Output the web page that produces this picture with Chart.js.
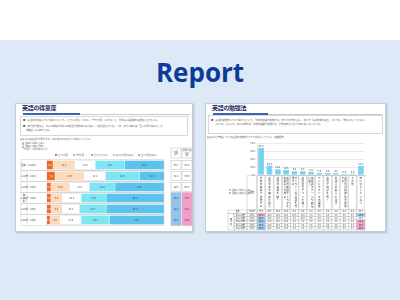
<!DOCTYPE html>
<html lang="ja">
<head>
<meta charset="utf-8">
<title>Report</title>
<script src="https://cdn.jsdelivr.net/npm/chart.js@4.4.1/dist/chart.umd.min.js"></script>
<style>
  html, body { margin: 0; padding: 0; }
  body { position: relative; width: 400px; height: 300px; overflow: hidden; background: #fff;
         font-family: "Noto Sans CJK JP", "Noto Sans", sans-serif; }
  .band { position: absolute; left: 0; top: 40px; width: 400px; height: 260px; background: #dde9f6; }
  .report { position: absolute; left: 0; top: 55px; width: 400px; text-align: center;
            font-family: "Open Sans", sans-serif; font-weight: 700; font-size: 26px; line-height: 34px; color: #0d3b99; }
  .page { position: absolute; top: 103px; height: 129px; background: #fff; box-sizing: border-box;
          border: 1px solid #c6ccd4; box-shadow: 1px 1px 2px rgba(0,0,0,.18); }
  .ttl { position: absolute; top: 103px; font-size: 6px; line-height: 9px; font-weight: 700; color: #1c2b66;
         letter-spacing: -0.3px; white-space: nowrap; }
  .uline { position: absolute; top: 113px; height: 1.5px; background: #3b62b3; }
  .gline { position: absolute; top: 113.5px; height: 0.6px; background: #c9c9c9; }
  .box { position: absolute; border: 0.6px solid #d8d8d8; box-sizing: border-box; }
  .tiny { position: absolute; font-size: 2.3px; line-height: 3.2px; color: #555; white-space: nowrap; }
  .leg { font-size: 2.1px; }
  .sq { display: inline-block; width: 2.2px; height: 2.2px; margin-right: 0.5px; vertical-align: middle; box-sizing: border-box; }
  .wrap { position: absolute; }
</style>
</head>
<body>
<div class="band"></div>
<div class="report">Report</div>

<!-- left page -->
<div class="page" style="left:15px; width:178px;"></div>
<div class="ttl" style="left:22px;">英語の得意度</div>
<div class="uline" style="left:23px; width:57px;"></div>
<div class="gline" style="left:80px; width:110px;"></div>
<div class="box" style="left:20px; top:116px; width:168px; height:20px;"></div>
<div class="tiny" style="left:23px; top:119px;">■　英語の得意度について聞いたところ、「とても得意」（5.2％）、「やや得意」（18.5％）と、得意な人は全体の2割強にとどまった。</div>
<div class="tiny" style="left:23px; top:125px;">■　年代別で見ると、20～24歳は得意な人の割合が他の年代より高く、3割を超えている。一方、30代以降では「全く得意ではない」が</div>
<div class="tiny" style="left:26px; top:128.5px;">半数近くを占めている。</div>
<div class="tiny" style="left:20px; top:137.5px;">Q.あなたは英語が得意ですか。あてはまるものを1つお選びください。</div>
<div class="tiny leg" style="left:22px; top:142px;"><span class="sq" style="background:#f59acb"></span>全体より5pt以上高い</div>
<div class="tiny leg" style="left:22px; top:145.2px;"><span class="sq" style="background:#8fc3f0"></span>全体より5pt以上低い</div>
<div class="tiny leg" style="left:22px; top:148.4px;">（得意計・得意ではない計）</div>
<div class="tiny leg" style="left:55px; top:153.5px;"><span class="sq" style="background:#f0672a"></span>とても得意</div>
<div class="tiny leg" style="left:73px; top:153.5px;"><span class="sq" style="background:#fcdcbc; border:0.3px solid #f3ad73"></span>やや得意</div>
<div class="tiny leg" style="left:91px; top:153.5px;"><span class="sq" style="background:#fff; border:0.3px solid #aaa"></span>どちらでもない</div>
<div class="tiny leg" style="left:113px; top:153.5px;"><span class="sq" style="background:#7ee6f2"></span>あまり得意ではない</div>
<div class="tiny leg" style="left:138px; top:153.5px;"><span class="sq" style="background:#5cc4ec"></span>全く得意ではない</div>
<div class="wrap" style="left:20px; top:143px; width:176px; height:91px;"><canvas id="levelChart"></canvas></div>

<!-- right page -->
<div class="page" style="left:205px; width:181px;"></div>
<div class="ttl" style="left:212px;">英語の勉強法</div>
<div class="uline" style="left:213px; width:55px;"></div>
<div class="gline" style="left:268px; width:114px;"></div>
<div class="box" style="left:208px; top:115px; width:175px; height:19px;"></div>
<div class="tiny" style="left:211px; top:119px;">■　英語の勉強法について聞いたところ、「学校の授業で勉強する」が67.3％で最も多く、次いで「英語の本を読む」（23.7％）、「特に何もしていない」</div>
<div class="tiny" style="left:214px; top:122.5px;">（22.7％）となった。20～24歳では「学校の授業で勉強する」が他の年代に比べて特に高くなっている。</div>
<div class="tiny" style="left:207px; top:136px;">Q.あなたが普段している英語の勉強法をすべてお選びください。（複数回答）</div>
<div class="tiny leg" style="left:229px; top:188.5px;"><span class="sq" style="background:#f59acb"></span>全体より5pt以上高い</div>
<div class="tiny leg" style="left:229px; top:191.7px;"><span class="sq" style="background:#8fc3f0"></span>全体より5pt以上低い</div>
<div class="wrap" style="left:222px; top:138px; width:150px; height:95px;"><canvas id="studyChart"></canvas></div>

<script>
// ---- left chart data (英語の得意度, %)
const rowLabels = ['全体（1,000）', '20～24歳（200）', '25～29歳（200）', '30～34歳（200）', '35～39歳（200）', '40～44歳（200）'];
const levelNames = ['とても得意', 'やや得意', 'どちらでもない', 'あまり得意ではない', '全く得意ではない'];
const veryGood = [5.2, 7.1, 3.4, 3.4, 3.4, 2.8];
const good = [18.5, 24.7, 15.9, 9.4, 9.4, 8.5];
const neutral = [17.6, 18.2, 17.0, 16.5, 15.1, 17.9];
const notGood = [25.1, 29.0, 21.9, 21.3, 22.7, 24.1];
const notAtAll = [33.6, 21.0, 41.8, 49.4, 49.4, 46.7];
const levelTicks = [0, 20, 40, 60, 80, 100];

// ---- right chart data (英語の勉強法, %)
const methods = ['学校の授業で勉強する', '英語の本や雑誌を読む', '英語の音楽を聴く', '英語の映画やドラマを字幕なしで見る',
  'オンライン英会話を利用する', '英語学習アプリを使う', '英会話スクールや教室に通う', 'テレビやラジオの講座',
  '英語で日記を書く', '外国人の友人と話す', '英語の資格試験を受験する', 'その他', '特に何もしていない'];
const methodTotal = [67.3, 23.7, 14.3, 12.6, 9.3, 9.3, 8.4, 5.0, 5.0, 4.2, 3.4, 3.4, 22.7];
const ageGroups = ['20～24歳', '25～29歳', '30～34歳', '35～39歳', '40～44歳'];
const ageN = ['(200)', '(200)', '(200)', '(200)', '(200)'];
const age20a = [88.5, 26.0, 15.0, 13.5, 10.5, 11.0, 8.0, 5.5, 6.0, 5.0, 3.5, 3.0, 10.5];
const age25 = [61.5, 24.5, 14.5, 12.0, 9.0, 10.0, 9.5, 4.5, 5.5, 4.0, 3.0, 3.5, 22.0];
const age30 = [61.0, 22.5, 14.0, 12.5, 9.5, 8.5, 8.0, 5.0, 4.5, 4.5, 3.5, 4.0, 28.0];
const age35 = [61.5, 23.0, 13.5, 13.0, 8.5, 9.0, 8.5, 5.0, 4.5, 4.0, 3.5, 3.0, 28.5];
const age40 = [62.0, 22.5, 14.5, 12.0, 9.0, 8.0, 8.0, 5.0, 4.5, 3.5, 3.5, 3.5, 29.0];
const studyTicks = [0, 20, 40, 60, 80];

const PINK = '#f59acb', BLUE = '#8fc3f0';
const FONT = '"Noto Sans CJK JP", "Noto Sans", sans-serif';
Chart.defaults.font.family = FONT;
Chart.defaults.color = '#555';

function markColor(v, base, gap) {
    if (v - base >= gap) return PINK;
    if (v - base <= -gap) return BLUE;
    return '#ffffff';
}

// Stacked bar: value labels, row frames, right summary table
var levelExtras = {
    id: 'levelExtras',
    beforeDatasetsDraw: function (chart) {
        var ctx = chart.ctx, a = chart.chartArea, y = chart.scales.y;
        ctx.save();
        ctx.strokeStyle = '#c8c8c8';
        ctx.lineWidth = 0.5;
        rowLabels.forEach(function (lab, i) {
            var cy = y.getPixelForValue(i);
            ctx.strokeRect(1, cy - 5.5, a.right - 1, 11);
        });
        // group column for the age rows
        var top = y.getPixelForValue(1) - 5.5, bottom = y.getPixelForValue(rowLabels.length - 1) + 5.5;
        ctx.beginPath();
        ctx.moveTo(7, top); ctx.lineTo(7, bottom);
        ctx.moveTo(a.left, y.getPixelForValue(0) - 5.5); ctx.lineTo(a.left, bottom);
        ctx.stroke();
        ctx.fillStyle = '#444';
        ctx.font = '2.6px ' + FONT;
        ctx.textAlign = 'center';
        ctx.textBaseline = 'middle';
        var grp = '年代別', mid = (top + bottom) / 2;
        for (var k = 0; k < grp.length; k++) ctx.fillText(grp[k], 4, mid + (k - 1) * 3);
        ctx.restore();
    },
    afterDatasetsDraw: function (chart) {
        var ctx = chart.ctx, y = chart.scales.y;
        ctx.save();
        ctx.font = '2.5px ' + FONT;
        ctx.textAlign = 'center';
        ctx.textBaseline = 'middle';
        chart.data.datasets.forEach(function (ds, di) {
            chart.getDatasetMeta(di).data.forEach(function (bar, i) {
                ctx.fillStyle = di === 0 ? '#ffffff' : '#444';
                ctx.fillText(ds.data[i].toFixed(1), (bar.x + bar.base) / 2, bar.y);
            });
        });
        // summary table: 得意(計) / 得意ではない(計)
        var cols = [151, 162], w = 10;
        ctx.strokeStyle = '#bdbdbd';
        ctx.lineWidth = 0.5;
        var heads = [['得意', '(計)'], ['得意では', 'ない', '(計)']];
        ctx.font = '2.2px ' + FONT;
        heads.forEach(function (h, c) {
            ctx.fillStyle = '#fff';
            ctx.fillRect(cols[c], 5, w, 10);
            ctx.strokeRect(cols[c], 5, w, 10);
            ctx.fillStyle = '#444';
            h.forEach(function (t, k) { ctx.fillText(t, cols[c] + w / 2, 10 + (k - (h.length - 1) / 2) * 2.6); });
        });
        ctx.font = '2.5px ' + FONT;
        var g0 = veryGood[0] + good[0], n0 = notGood[0] + notAtAll[0];
        rowLabels.forEach(function (lab, i) {
            var cy = y.getPixelForValue(i);
            var g = veryGood[i] + good[i], n = notGood[i] + notAtAll[i];
            [[g, g0], [n, n0]].forEach(function (p, c) {
                var col = i === 0 ? '#ffffff' : markColor(p[0], p[1], 10);
                var hh = col === '#ffffff' ? 4.5 : 5.5;
                ctx.fillStyle = col;
                ctx.fillRect(cols[c], cy - hh, w, hh * 2);
                ctx.strokeRect(cols[c], cy - hh, w, hh * 2);
                ctx.fillStyle = '#333';
                ctx.fillText(p[0].toFixed(1), cols[c] + w / 2, cy);
            });
        });
        ctx.restore();
    }
};

var levelColors = ['#f0672a', '#fcdcbc', '#ffffff', '#7ee6f2', '#5cc4ec'];
var levelBorders = ['#e35a1c', '#f3ad73', '#bdbdbd', '#3fd0e6', '#2aa9de'];
var levelData = [veryGood, good, neutral, notGood, notAtAll];

new Chart(document.getElementById('levelChart'), {
    type: 'bar',
    data: {
        labels: rowLabels,
        datasets: levelNames.map(function (name, i) {
            return {
                label: name,
                data: levelData[i],
                backgroundColor: levelColors[i],
                borderColor: levelBorders[i],
                borderWidth: 0.5,
                barPercentage: 0.82,
                categoryPercentage: 1
            };
        })
    },
    options: {
        indexAxis: 'y',
        responsive: true,
        maintainAspectRatio: false,
        animation: false,
        layout: { padding: { top: 16.5, right: 32, left: 0, bottom: 0 } },
        plugins: { legend: { display: false }, tooltip: { enabled: false } },
        scales: {
            x: {
                stacked: true, min: 0, max: 100,
                afterBuildTicks: function (s) { s.ticks = levelTicks.map(function (v) { return { value: v }; }); },
                ticks: { font: { size: 2.5 }, color: '#666', padding: 1, callback: function (v) { return v + '%'; } },
                grid: { display: false },
                border: { display: false },
                afterFit: function (s) { s.height = 8.5; }
            },
            y: {
                stacked: true,
                ticks: { font: { size: 2.6 }, color: '#444', padding: 1.5 },
                grid: { display: false },
                border: { display: false },
                afterFit: function (s) { s.width = 27; }
            }
        }
    },
    plugins: [levelExtras]
});

// Column chart: value labels, vertical category cells, cross table
var studyExtras = {
    id: 'studyExtras',
    afterDraw: function (chart) {
        var ctx = chart.ctx, a = chart.chartArea;
        var step = (a.right - a.left) / methods.length;
        ctx.save();
        ctx.font = '2.5px ' + FONT;
        ctx.textAlign = 'center';
        ctx.fillStyle = '#333';
        ctx.textBaseline = 'bottom';
        chart.getDatasetMeta(0).data.forEach(function (bar, i) {
            ctx.fillText(methodTotal[i].toFixed(1), bar.x, bar.y - 0.6);
        });

        // category label cells with vertical text
        var catBottom = 72, rowH = (92 - catBottom) / 6;
        ctx.strokeStyle = '#bdbdbd';
        ctx.lineWidth = 0.5;
        ctx.textBaseline = 'middle';
        ctx.font = '2.6px ' + FONT;
        methods.forEach(function (m, i) {
            var x0 = a.left + i * step;
            ctx.strokeRect(x0 + 0.4, a.bottom + 0.8, step - 0.8, catBottom - a.bottom - 1.2);
            var parts = [];
            for (var s = 0; s < m.length; s += 10) parts.push(m.slice(s, s + 10));
            var cx = x0 + step / 2;
            parts.forEach(function (p, c) {
                var px = cx + ((parts.length - 1) / 2 - c) * 2.8;
                for (var k = 0; k < p.length; k++) ctx.fillText(p[k], px, a.bottom + 3 + k * 3.1);
            });
        });
        ctx.strokeRect(25, a.bottom + 0.8, 9.5, catBottom - a.bottom - 1.2);
        ctx.fillStyle = '#444';
        ctx.fillText('回答', 29.75, (a.bottom + catBottom) / 2);

        // cross table
        var rows = [methodTotal, age20a, age25, age30, age35, age40];
        ctx.font = '2.1px ' + FONT;
        rows.forEach(function (r, j) {
            var ty = catBottom + j * rowH;
            r.forEach(function (v, i) {
                var x0 = a.left + i * step;
                ctx.fillStyle = j === 0 ? '#ffffff' : markColor(v, methodTotal[i], 5);
                ctx.fillRect(x0, ty, step, rowH);
                ctx.strokeRect(x0, ty, step, rowH);
                ctx.fillStyle = '#333';
                ctx.fillText(v.toFixed(1), x0 + step / 2, ty + rowH / 2);
            });
            ctx.strokeRect(25, ty, a.left - 25, rowH);
            ctx.fillStyle = '#333';
            ctx.fillText(j === 0 ? '(1,000)' : ageN[j - 1], 30, ty + rowH / 2);
            if (j === 0) {
                ctx.strokeRect(6, ty, 19, rowH);
                ctx.fillText('全体', 15.5, ty + rowH / 2);
            } else {
                ctx.strokeRect(12, ty, 13, rowH);
                ctx.fillText(ageGroups[j - 1], 18.5, ty + rowH / 2);
            }
        });
        ctx.strokeRect(6, catBottom + rowH, 6, rowH * 5);
        var grp = '年代別', mid = catBottom + rowH * 3.5;
        for (var k = 0; k < grp.length; k++) ctx.fillText(grp[k], 9, mid + (k - 1) * 2.6);
        ctx.restore();
    }
};

new Chart(document.getElementById('studyChart'), {
    type: 'bar',
    data: {
        labels: methods,
        datasets: [{
            label: '全体',
            data: methodTotal,
            backgroundColor: '#74d3f2',
            borderColor: '#2fb2e3',
            borderWidth: 0.5,
            barPercentage: 0.7,
            categoryPercentage: 1
        }]
    },
    options: {
        responsive: true,
        maintainAspectRatio: false,
        animation: false,
        layout: { padding: { top: 5, right: 7, left: 0, bottom: 0 } },
        plugins: { legend: { display: false }, tooltip: { enabled: false } },
        scales: {
            x: {
                ticks: { display: false },
                grid: { display: false },
                border: { color: '#bdbdbd', width: 0.5 },
                afterFit: function (s) { s.height = 58; }
            },
            y: {
                min: 0, max: 80,
                afterBuildTicks: function (s) { s.ticks = studyTicks.map(function (v) { return { value: v }; }); },
                ticks: { font: { size: 2.6 }, color: '#666', padding: 1.5, callback: function (v) { return v + '%'; } },
                grid: { color: '#d6d6d6', lineWidth: 0.5, drawTicks: false },
                border: { color: '#bdbdbd', width: 0.5 },
                afterFit: function (s) { s.width = 35; }
            }
        }
    },
    plugins: [studyExtras]
});
</script>
</body>
</html>
